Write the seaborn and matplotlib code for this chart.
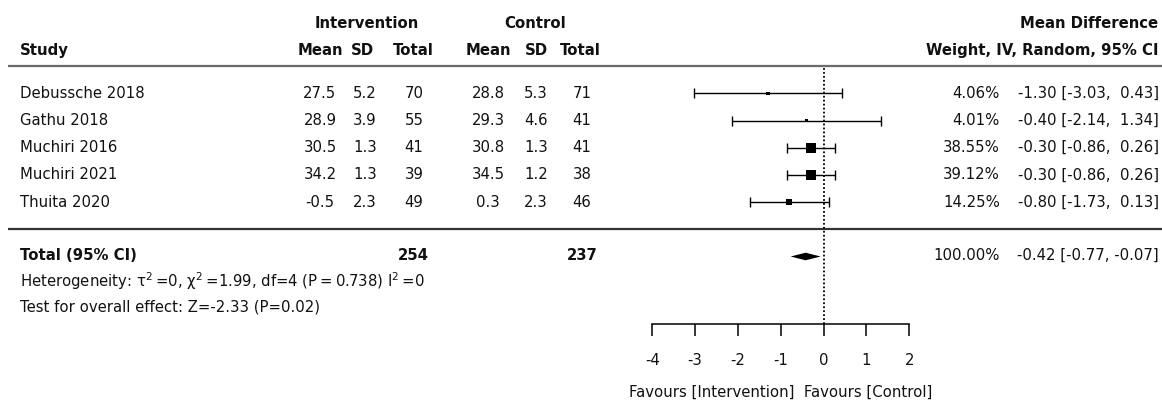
import numpy as np
import pandas as pd
import matplotlib
matplotlib.use("Agg")
import matplotlib.pyplot as plt
import seaborn as sns

# ---- study data -------------------------------------------------------
studies = ["Debussche 2018", "Gathu 2018", "Muchiri 2016", "Muchiri 2021", "Thuita 2020"]
int_mean = [27.5, 28.9, 30.5, 34.2, -0.5]
int_sd = [5.2, 3.9, 1.3, 1.3, 2.3]
int_n = [70, 55, 41, 39, 49]
ctl_mean = [28.8, 29.3, 30.8, 34.5, 0.3]
ctl_sd = [5.3, 4.6, 1.3, 1.2, 2.3]
ctl_n = [71, 41, 41, 38, 46]
weights = [4.06, 4.01, 38.55, 39.12, 14.25]
md = [-1.30, -0.40, -0.30, -0.30, -0.80]
ci_low = [-3.03, -2.14, -0.86, -0.86, -1.73]
ci_high = [0.43, 1.34, 0.26, 0.26, 0.13]

# ---- pooled result ----------------------------------------------------
total_int_n = 254
total_ctl_n = 237
total_weight = 100.00
pooled_md = -0.42
pooled_low = -0.77
pooled_high = -0.07

heterogeneity = ("Heterogeneity: \u03c4$^2$\u2009=0, \u03c7$^2$\u2009=1.99, "
                 "df=4 (P\u2009=\u20090.738) I$^2$\u2009=0")
overall_test = "Test for overall effect: Z=-2.33 (P=0.02)"
x_ticks = [-4, -3, -2, -1, 0, 1, 2]
favours_label = "Favours [Intervention]  Favours [Control]"

# ---- style ------------------------------------------------------------
sns.set_theme(style="white")
plt.rcParams["font.family"] = ["DejaVu Sans"]
plt.rcParams["mathtext.fontset"] = "dejavusans"
FS = 10.7
INK = "#111111"

W, H = 1162, 401
fig = plt.figure(figsize=(W / 100, H / 100), dpi=100)
fig.patch.set_facecolor("white")

# row geometry (pixels from the top of the figure)
ROW0, ROW_H = 93.3, 27.2
TXT_DY = 0.0


def row_px(i):
    return ROW0 + ROW_H * i


# ---- table layer (pixel coordinates) ---------------------------------
tab = fig.add_axes([0, 0, 1, 1])
tab.set_xlim(0, W)
tab.set_ylim(H, 0)
tab.axis("off")


def put(x, y, s, ha="center", bold=False):
    tab.text(x, y + TXT_DY, s, ha=ha, va="center", fontsize=FS, color=INK,
             fontweight="bold" if bold else "normal")


# column anchors
X_STUDY = 20
X_COLS = [320, 365, 414, 488, 536, 582]
X_WEIGHT = 1000
X_CI = 1159
X_RIGHT_HEAD = 1158

# header
put(366.7, 23.5, "Intervention", bold=True)
put(535, 23.5, "Control", bold=True)
put(X_RIGHT_HEAD, 23.5, "Mean Difference", ha="right", bold=True)
put(X_STUDY, 50.5, "Study", ha="left", bold=True)
for x, h in zip([320, 362.5, 413, 488, 536, 580], ["Mean", "SD", "Total"] * 2):
    put(x, 50.5, h, bold=True)
put(X_RIGHT_HEAD, 50.5, "Weight, IV, Random, 95% CI", ha="right", bold=True)

tab.plot([8, W], [66, 66], color="#6b6b6b", lw=1.6, solid_capstyle="butt")
tab.plot([8, W], [229.3, 229.3], color="#333333", lw=1.6, solid_capstyle="butt")

# study rows
for i, name in enumerate(studies):
    y = row_px(i)
    put(X_STUDY, y, name, ha="left")
    cells = [f"{int_mean[i]:.1f}", f"{int_sd[i]:.1f}", str(int_n[i]),
             f"{ctl_mean[i]:.1f}", f"{ctl_sd[i]:.1f}", str(ctl_n[i])]
    for x, c in zip(X_COLS, cells):
        put(x, y, c)
    put(X_WEIGHT, y, f"{weights[i]:.2f}%", ha="right")
    put(X_CI, y, f"{md[i]:.2f} [{ci_low[i]:.2f}, {ci_high[i]:5.2f}]", ha="right")

# totals
y_tot = 255.7
put(X_STUDY, y_tot, "Total (95% CI)", ha="left", bold=True)
put(413, y_tot, str(total_int_n), bold=True)
put(582, y_tot, str(total_ctl_n), bold=True)
put(X_WEIGHT, y_tot, f"{total_weight:.2f}%", ha="right")
put(X_CI, y_tot, f"{pooled_md:.2f} [{pooled_low:.2f}, {pooled_high:5.2f}]", ha="right")
put(X_STUDY, 281.0, heterogeneity, ha="left")
put(X_STUDY, 307.3, overall_test, ha="left")

# ---- forest panel ----------------------------------------------------
x0_px, x1_px = 652.3, 909.3
top_px, bot_px = 66.0, 324.3
ax = fig.add_axes([x0_px / W, 1 - bot_px / H, (x1_px - x0_px) / W, (bot_px - top_px) / H])
ax.patch.set_alpha(0)

df = pd.DataFrame({
    "study": studies,
    "row": np.arange(len(studies)),
    "md": md,
    "low": ci_low,
    "high": ci_high,
    "weight": weights,
})

ax.axvline(0, color="black", lw=1.3, ls=(0, (1, 1.2)), zorder=1)
ax.errorbar(df["md"], df["row"],
            xerr=[df["md"] - df["low"], df["high"] - df["md"]],
            fmt="none", ecolor="black", elinewidth=1.0, capsize=3.8, capthick=1.0, zorder=2)
sns.scatterplot(data=df, x="md", y="row", size="weight", sizes=(0, 135), size_norm=(0, 100),
                marker="s", color="black", linewidth=0, legend=False, ax=ax, zorder=3)

pooled_row = 6
half_h = 3.8 / ROW_H
ax.fill([pooled_low, pooled_md, pooled_high, pooled_md],
        [pooled_row, pooled_row - half_h, pooled_row, pooled_row + half_h],
        color="black", lw=0, zorder=3)

ax.set_xlim(x_ticks[0], x_ticks[-1])
ax.set_ylim((bot_px - ROW0) / ROW_H, (top_px - ROW0) / ROW_H)
ax.set_xticks(x_ticks)
ax.set_xticklabels([str(t) for t in x_ticks])
ax.set_yticks([])
ax.set_ylabel("")
for side in ["top", "left", "right"]:
    ax.spines[side].set_visible(False)
ax.spines["bottom"].set_color("black")
ax.spines["bottom"].set_linewidth(1.1)
ax.tick_params(axis="x", direction="out", length=8.5, width=1.1, pad=12.5,
               labelsize=FS, color="black", labelcolor=INK, bottom=True)
ax.set_xlabel(favours_label, fontsize=FS, color=INK, labelpad=12)

fig.savefig("out.png", dpi=100, facecolor="white")
